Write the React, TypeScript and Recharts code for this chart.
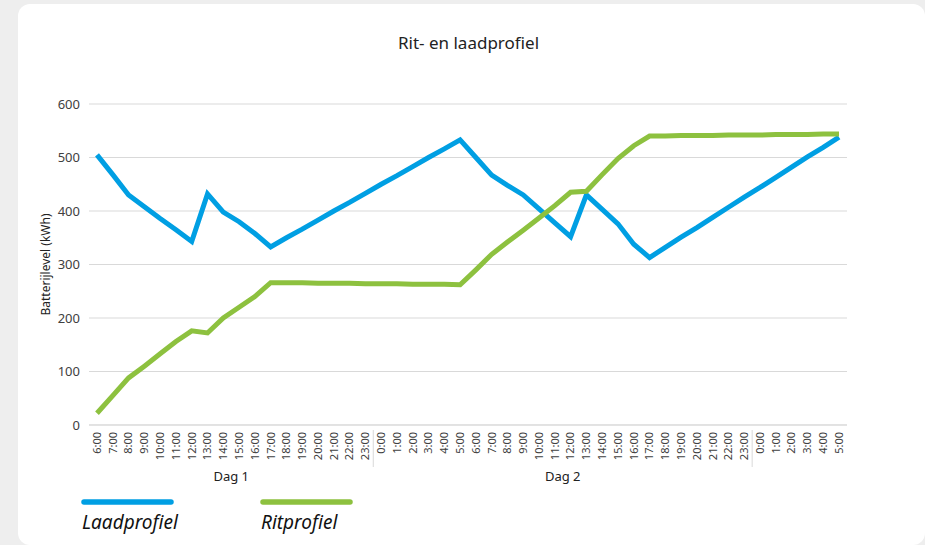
import { CartesianGrid, Line, LineChart, XAxis, YAxis } from 'recharts';

const hours = [
  '6:00', '7:00', '8:00', '9:00', '10:00', '11:00', '12:00', '13:00', '14:00', '15:00', '16:00', '17:00',
  '18:00', '19:00', '20:00', '21:00', '22:00', '23:00',
  '0:00', '1:00', '2:00', '3:00', '4:00', '5:00', '6:00', '7:00', '8:00', '9:00', '10:00', '11:00',
  '12:00', '13:00', '14:00', '15:00', '16:00', '17:00', '18:00', '19:00', '20:00', '21:00', '22:00', '23:00',
  '0:00', '1:00', '2:00', '3:00', '4:00', '5:00',
];

// day labels sit under the middle of their block, dividers before each new day
const dayLabels = [
  { start: 0, end: 17, label: 'Dag 1' },
  { start: 18, end: 41, label: 'Dag 2' },
];
const dayStarts = [18, 42];

const laadprofiel = [
  505, 468, 430, 408, 386, 365, 343, 432, 398, 380, 358, 333, 350, 366, 383, 400, 416, 433,
  450, 466, 483, 500, 516, 533, 500, 467, 448, 430, 404, 378, 352, 430, 403, 376, 338, 313,
  332, 351, 369, 388, 407, 426,
  444, 463, 482, 501, 519, 538,
];

const ritprofiel = [
  22, 55, 88, 110, 133, 156, 176, 172, 200, 220, 240, 266, 266, 266, 265, 265, 265, 264,
  264, 264, 263, 263, 263, 262, 290, 319, 342, 364, 387, 410, 435, 437, 468, 498, 522, 540,
  540, 541, 541, 541, 542, 542,
  542, 543, 543, 543, 544, 544,
];

const yTicks = [0, 100, 200, 300, 400, 500, 600];

const data = hours.map((h, i) => ({ i, hour: h, laad: laadprofiel[i], rit: ritprofiel[i] }));

const BLUE = '#009fe3';
const GREEN = '#8dc13f';
const FONT = "'Noto Sans', 'Open Sans', sans-serif";
const HALF_BAND = 7.9;

function HourTick(props: any) {
  const { x, y, payload } = props;
  const i = payload.value as number;
  const day = dayLabels.find((d) => Math.floor((d.start + d.end) / 2) === i);
  const isStart = dayStarts.includes(i);
  return (
    <g>
      <text
        x={x}
        y={y}
        dy="0.35em"
        transform={`rotate(-90 ${x} ${y})`}
        textAnchor="end"
        fontSize={11}
        fill="#404040"
      >
        {hours[i]}
      </text>
      {isStart && <line x1={x - HALF_BAND} x2={x - HALF_BAND} y1={y - 2} y2={y + 35} stroke="#d9d9d9" />}
      {day && (
        <text x={x + ((day.end - day.start) % 2 ? HALF_BAND : 0)} y={y + 49} textAnchor="middle" fontSize={13} fill="#222">
          {day.label}
        </text>
      )}
    </g>
  );
}

function LegendBox() {
  return (
    <svg width={320} height={55} style={{ position: 'absolute', left: 60, top: 490 }}>
      <line x1={24} x2={111} y1={12} y2={12} stroke={BLUE} strokeWidth={5.5} strokeLinecap="round" />
      <text x={22} y={39} fontSize={19} fontStyle="italic" fill="#111" fontFamily={FONT}>Laadprofiel</text>
      <line x1={203} x2={290} y1={12} y2={12} stroke={GREEN} strokeWidth={5.5} strokeLinecap="round" />
      <text x={201} y={39} fontSize={19} fontStyle="italic" fill="#111" fontFamily={FONT}>Ritprofiel</text>
    </svg>
  );
}

export default function App() {
  return (
    <div style={{ position: 'absolute', left: 0, top: 0, width: 925, height: 545, background: '#eeeeee', fontFamily: FONT, overflow: 'hidden' }}>
      <div style={{ position: 'absolute', left: 18, top: 4, width: 907, height: 541, background: '#fff', borderRadius: 12 }} />
      <div style={{ position: 'absolute', left: 0, top: 31, width: 937, textAlign: 'center', fontSize: 17, color: '#222' }}>
        Rit- en laadprofiel
      </div>
      <div style={{ position: 'absolute', left: 0, top: 0 }}>
        <LineChart width={925} height={545} data={data} margin={{ top: 104, right: 18, bottom: 60, left: 29 }}>
          <CartesianGrid vertical={false} stroke="#d9d9d9" yAxisId="l" />
          <XAxis
            dataKey="i"
            interval={0}
            padding={{ left: 8, right: 8 }}
            axisLine={{ stroke: '#d9d9d9' }}
            tickLine={false}
            tickSize={0}
            tickMargin={7}
            height={60}
            tick={<HourTick />}
          />
          <YAxis
            yAxisId="l"
            width={60}
            domain={[0, 600]}
            ticks={yTicks}
            axisLine={false}
            tickLine={false}
            tickSize={0}
            tickMargin={9}
            tick={{ fontSize: 13, fill: '#404040' }}
            label={{ value: 'Batterijlevel (kWh)', angle: -90, position: 'insideLeft', offset: 17, style: { textAnchor: 'middle', fontSize: 12, fill: '#222' } }}
          />
          <YAxis
            yAxisId="r"
            orientation="right"
            width={60}
            domain={[0, 600]}
            ticks={yTicks}
            axisLine={false}
            tickLine={false}
            tickSize={0}
            tickMargin={12}
            tick={{ fontSize: 13, fill: '#404040', textAnchor: 'start' }}
          />
          <Line yAxisId="l" type="linear" dataKey="laad" name="Laadprofiel" stroke={BLUE} strokeWidth={5} dot={false} isAnimationActive={false} />
          <Line yAxisId="l" type="linear" dataKey="rit" name="Ritprofiel" stroke={GREEN} strokeWidth={5} dot={false} isAnimationActive={false} />
        </LineChart>
      </div>
      <LegendBox />
    </div>
  );
}
